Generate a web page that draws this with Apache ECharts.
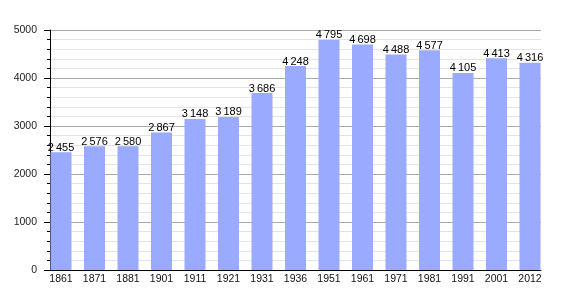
<!DOCTYPE html>
<html>
<head>
<meta charset="utf-8">
<script src="https://cdn.jsdelivr.net/npm/echarts@6/dist/echarts.min.js"></script>
<style>html,body{margin:0;padding:0;background:#fff}#c{width:570px;height:300px}</style>
</head>
<body>
<div id="c"></div>
<script>
var years = ['1861','1871','1881','1901','1911','1921','1931','1936','1951','1961','1971','1981','1991','2001','2012'];
var population = [2455, 2576, 2580, 2867, 3148, 3189, 3686, 4248, 4795, 4698, 4488, 4577, 4105, 4413, 4316];
var yTicks = [0, 1000, 2000, 3000, 4000, 5000];

var font = 'Liberation Sans, Arial, sans-serif';
var chart = echarts.init(document.getElementById('c'), null, {renderer: 'canvas'});
chart.setOption({
  animation: false,
  grid: [
    {left: 61, width: 469, top: 30, height: 240},
    {left: 50, width: 491, top: 30, height: 240}
  ],
  xAxis: [
    {
      gridIndex: 0, type: 'category', data: years, boundaryGap: false,
      axisLine: {show: false}, axisTick: {show: false},
      axisLabel: {color: '#111', fontSize: 10.5, fontFamily: font, margin: 4, interval: 0}
    },
    {
      gridIndex: 1, type: 'value', min: 0, max: 1,
      axisLine: {show: true, lineStyle: {color: '#000', width: 1}},
      axisTick: {show: false}, axisLabel: {show: false}, splitLine: {show: false}
    }
  ],
  yAxis: [
    {gridIndex: 0, type: 'value', min: yTicks[0], max: yTicks[yTicks.length - 1], show: false},
    {
      gridIndex: 1, type: 'value', min: yTicks[0], max: yTicks[yTicks.length - 1], interval: 1000,
      axisLine: {show: true, lineStyle: {color: '#000', width: 1}},
      axisTick: {show: true, inside: false, length: 6, lineStyle: {color: '#000'}},
      minorTick: {show: true, splitNumber: 5, length: 3, lineStyle: {color: '#000'}},
      axisLabel: {color: '#222', fontSize: 10.5, fontFamily: font, margin: 13,
        formatter: function (v) { return String(v); }},
      splitLine: {show: true, lineStyle: {color: '#aaaaaa', width: 1}},
      minorSplitLine: {show: true, lineStyle: {color: '#e4e4e4', width: 1}}
    }
  ],
  series: [
    {
      type: 'bar', xAxisIndex: 0, yAxisIndex: 0, data: population,
      barWidth: 21, clip: false,
      itemStyle: {color: '#99aaff'},
      label: {
        show: true, position: 'top', distance: -1, color: '#000',
        fontSize: 11, fontFamily: font,
        formatter: function (p) {
          var s = String(p.value);
          return s.length > 3 ? s.slice(0, s.length - 3) + '\u2009' + s.slice(-3) : s;
        }
      }
    }
  ]
});
</script>
</body>
</html>
